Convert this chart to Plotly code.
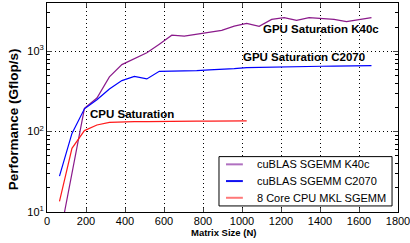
import math
import plotly.graph_objects as go

# Matrix sizes
n_gpu = [64, 128, 192, 256, 320, 384, 448, 512, 576, 640, 704, 768, 832, 896, 960,
         1024, 1088, 1152, 1216, 1280, 1344, 1408, 1472, 1536, 1600, 1664]
n_cpu = [64, 128, 192, 256, 320, 384, 448, 512, 576, 640, 704, 768, 832, 896, 960, 1024]

k40c = [4.7, 30, 195, 262, 479, 682, 800, 955, 1223, 1585, 1540, 1618, 1698, 1815, 2053,
        2218, 2037, 2489, 2612, 2420, 2612, 2540, 2489, 2330, 2489, 2612]
c2070 = [28, 95, 192, 249, 339, 431, 487, 452, 562, 562, 562, 574, 585, 590, 608,
         625, 631, 638, 642, 645, 648, 650, 652, 655, 658, 662]
cpu = [13.6, 62, 103, 121, 130, 132, 133, 133, 134, 134, 134, 135, 135, 135, 136, 136]

names = ["cuBLAS SGEMM K40c", "cuBLAS SGEMM C2070", "8 Core CPU MKL SGEMM"]
line_colors = ["#8B1A8B", "#0000FF", "#FF1A1A"]
legend_colors = ["#B070C0", "#1010F0", "#FF7878"]

x_ticks = [200, 400, 600, 800, 1000, 1200, 1400, 1600, 1800]
x_ticktext = ["200", "400", "600", "800", "1000", "1200", "1400", "1600", "1800"]
x_origin_label = "0"
y_ticks = [10, 100, 1000]
y_ticktext = ["10<sup>1</sup>", "10<sup>2</sup>", "10<sup>3</sup>"]
y_minor = [20, 30, 40, 50, 60, 70, 80, 90, 200, 300, 400, 500, 600, 700, 800, 900, 2000, 3000]

annotations_text = ["GPU Saturation K40c", "GPU Saturation C2070", "CPU Saturation"]
annotations_pos = [(1405, 1905), (1318, 841), (436, 165)]

FONT = "Liberation Sans, Arial, Helvetica, sans-serif"

fig = go.Figure()
series = [(n_gpu, k40c), (n_gpu, c2070), (n_cpu, cpu)]
for (xs, ys), name, col in zip(series, names, line_colors):
    fig.add_trace(go.Scatter(x=xs, y=ys, mode="lines", name=name,
                             line=dict(color=col, width=1.2), showlegend=False))

for txt, (ax, ay) in zip(annotations_text, annotations_pos):
    fig.add_annotation(x=ax, y=math.log10(ay), yref="y", xref="x", text="<b>" + txt + "</b>",
                       showarrow=False, font=dict(family=FONT, size=11.5, color="black"))

# manual legend box (paper coordinates)
fig.add_shape(type="rect", xref="paper", yref="paper", x0=0.490, x1=0.983, y0=0.029, y1=0.265,
              line=dict(color="black", width=1), fillcolor="white", layer="above")
legend_rows = [0.228, 0.148, 0.068]
for name, col, ry in zip(names, legend_colors, legend_rows):
    fig.add_shape(type="line", xref="paper", yref="paper", x0=0.510, x1=0.558, y0=ry, y1=ry,
                  line=dict(color=col, width=2), layer="above")
    fig.add_annotation(xref="paper", yref="paper", x=0.5926, y=ry, xanchor="left",
                       yanchor="middle", text=name, showarrow=False,
                       font=dict(family=FONT, size=11, color="black"))

# origin tick label
fig.add_annotation(xref="paper", yref="paper", x=0.0, y=(212 - 220.5) / 209, text=x_origin_label,
                   showarrow=False, xanchor="center", yanchor="middle",
                   font=dict(family=FONT, size=11, color="black"))

# axis titles
fig.add_annotation(xref="paper", yref="paper", x=(223.5 - 47) / 351, y=(212 - 232) / 209,
                   text="<b>Matrix Size (N)</b>", showarrow=False, xanchor="center",
                   yanchor="middle", font=dict(family=FONT, size=9.5, color="black"))
fig.add_annotation(xref="paper", yref="paper", x=(13.7 - 47) / 351, y=(212 - 119.6) / 209,
                   text="<b>Performance (Gflop/s)</b>", showarrow=False, textangle=-90,
                   xanchor="center", yanchor="middle",
                   font=dict(family=FONT, size=13.5, color="black"))

fig.update_layout(
    width=410, height=243,
    margin=dict(l=47, r=12, t=3, b=31),
    paper_bgcolor="white", plot_bgcolor="white",
    font=dict(family=FONT, size=11, color="black"),
    showlegend=False,
    xaxis=dict(range=[0, 1800], tickvals=x_ticks, ticktext=x_ticktext,
               ticks="inside", ticklen=4,
               showline=True, linecolor="black", linewidth=1, mirror="ticks",
               showgrid=True, gridcolor="black", griddash="1px,3px", gridwidth=1,
               zeroline=False, tickfont=dict(size=11), automargin=False,
               ticklabelstandoff=-1, ticklabeloverflow="allow"),
    yaxis=dict(type="log", range=[1, 3.6], tickvals=y_ticks, ticktext=y_ticktext,
               ticks="inside", ticklen=5,
               showline=True, linecolor="black", linewidth=1, mirror="ticks",
               showgrid=True, gridcolor="black", griddash="1px,3px", gridwidth=1,
               zeroline=False, tickfont=dict(size=11), automargin=False,
               minor=dict(tickvals=y_minor, ticks="inside", ticklen=3, showgrid=False,
                          tickcolor="black")),
)

fig.write_html("out.html", config={"displayModeBar": False},
               post_script="document.body.style.margin='0px';document.body.style.overflow='hidden';")
